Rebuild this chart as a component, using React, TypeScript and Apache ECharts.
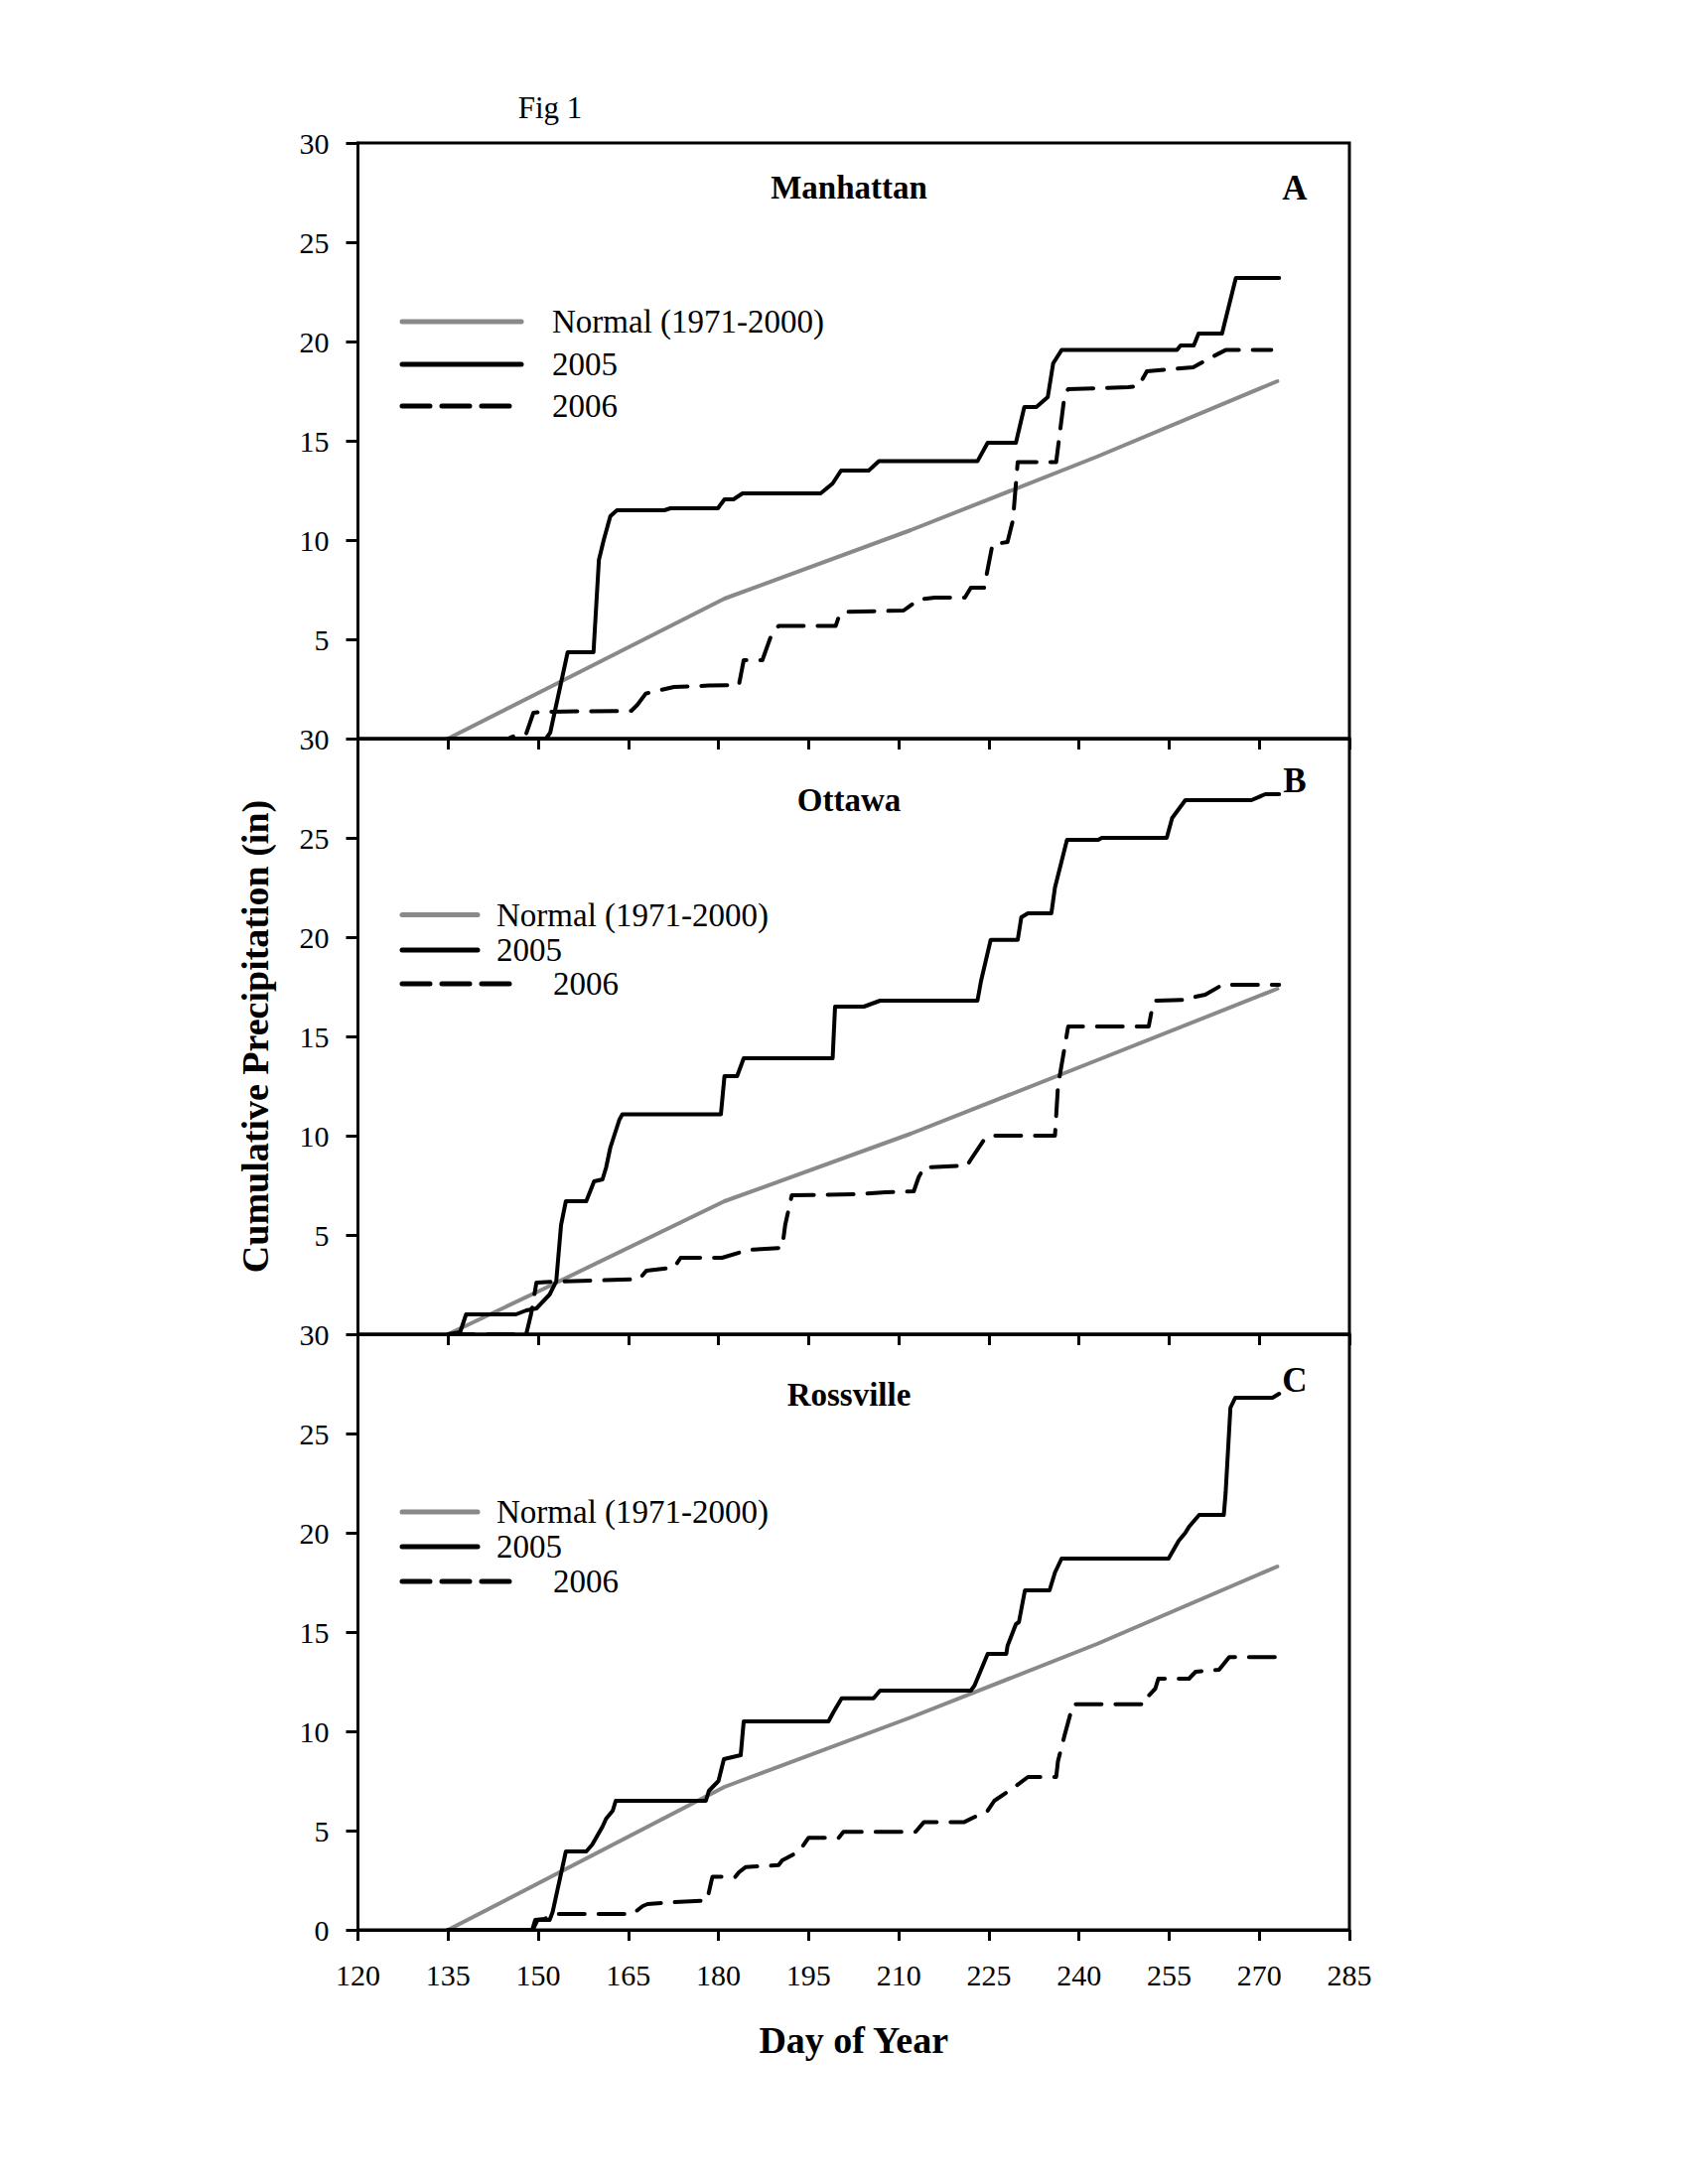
import React, { useEffect, useRef } from "react";
import * as echarts from "echarts";

// ---------- data ----------
const panelNames = ["Manhattan", "Ottawa", "Rossville"];
const panelLetters = ["A", "B", "C"];
const seriesNames = ["Normal (1971-2000)", "2005", "2006"];

const X_MIN = 120;
const X_MAX = 285;
const X_STEP = 15;
const Y_MIN = 0;
const Y_MAX = 30;
const Y_STEP = 5;

// Manhattan (A)
const manhattanNormal = [[135, 0], [151, 2.45], [181, 7.05], [212, 10.5], [243, 14.2], [273, 18.0]];
const manhattan2005 = [
  [135, 0], [151.3, 0], [152, 0.3], [154.9, 4.35], [159.2, 4.35], [160.1, 9.0], [160.9, 10.0], [162, 11.2],
  [163.1, 11.5], [171, 11.5], [172, 11.6], [179.9, 11.6], [181, 12.05], [182.5, 12.05], [184, 12.35],
  [197, 12.35], [199, 12.85], [200.4, 13.5], [205, 13.5], [206.7, 13.97], [223.1, 13.97], [224.8, 14.9],
  [229.5, 14.9], [230.9, 16.7], [232.9, 16.7], [234.8, 17.2], [235.7, 18.9], [237.1, 19.57], [256.3, 19.57],
  [256.9, 19.8], [259.1, 19.8], [259.9, 20.4], [263.8, 20.4], [266.1, 23.2], [273.3, 23.2],
];
const manhattan2006 = [
  [135, 0], [145, 0], [146.5, 0.2], [148, 0.25], [149.2, 1.3], [150.5, 1.35], [165.5, 1.4], [166.5, 1.7],
  [167.9, 2.27], [172.6, 2.6], [178.4, 2.67], [183.4, 2.7], [184.2, 3.95], [187.3, 3.95], [188.9, 5.3],
  [190, 5.67], [199.5, 5.67], [200.1, 6.2], [200.8, 6.38], [210.8, 6.45], [213.3, 7.0], [216, 7.1],
  [221, 7.1], [222, 7.6], [224.2, 7.6], [225.6, 9.78], [228.1, 9.9], [229, 11], [229.8, 13.93],
  [236.2, 13.93], [237.6, 17.3], [238.2, 17.6], [248.2, 17.7], [249.9, 17.75], [251.3, 18.5], [259, 18.7],
  [262, 19.2], [264.4, 19.57], [272, 19.57],
];

// Ottawa (B)
const ottawaNormal = [[135, 0], [151, 2.3], [181, 6.7], [212, 10.1], [243, 13.8], [273, 17.4]];
const ottawa2005 = [
  [135, 0], [137, 0.1], [138, 1.0], [146.3, 1.0], [148, 1.2], [149.7, 1.3], [151.9, 2.0], [153, 2.67],
  [153.8, 5.5], [154.6, 6.7], [158, 6.7], [159.3, 7.7], [160.7, 7.8], [161.3, 8.4], [162, 9.4],
  [163.5, 10.8], [164, 11.07], [180.4, 11.07], [181, 13.0], [183.1, 13.0], [184.2, 13.9], [199, 13.9],
  [199.4, 16.5], [204.2, 16.5], [206.9, 16.8], [223.1, 16.8], [223.7, 17.8], [225.3, 19.86], [229.8, 19.86],
  [230.4, 21.0], [231.5, 21.2], [235.4, 21.2], [236, 22.5], [238, 24.9], [243.2, 24.9], [243.8, 25.0],
  [254.6, 25.0], [255.5, 26.0], [257.7, 26.9], [268.7, 26.9], [271, 27.2], [273.3, 27.2],
];
const ottawa2006 = [
  [135, 0], [148, 0], [148.8, 1.0], [149.7, 2.6], [153, 2.65], [166.8, 2.77], [168, 3.2], [172.6, 3.36],
  [173.7, 3.85], [180.6, 3.85], [185, 4.25], [190.6, 4.35], [191.1, 5.5], [192.2, 7.0], [202.7, 7.05],
  [207.8, 7.15], [212.5, 7.2], [213.3, 7.9], [214.2, 8.4], [221.4, 8.5], [222, 8.8], [224.2, 9.8],
  [225.3, 10.0], [236, 10.0], [236.5, 12.5], [238.2, 15.5], [251.6, 15.5], [252.1, 16.3], [252.7, 16.8],
  [258.3, 16.85], [259.4, 17.0], [261, 17.1], [263.3, 17.5], [263.8, 17.6], [273.3, 17.6],
];

// Rossville (C)
const rossvilleNormal = [[135, 0], [151, 2.5], [181, 7.2], [212, 10.7], [243, 14.4], [273, 18.3]];
const rossville2005 = [
  [135, 0], [149.1, 0], [149.9, 0.5], [151.9, 0.5], [152.4, 0.9], [154.6, 3.95], [158, 3.95], [159, 4.3],
  [160.7, 5.2], [161.3, 5.6], [162.4, 6.0], [162.9, 6.5], [177.9, 6.5], [178.4, 7.0], [180, 7.5],
  [180.9, 8.6], [183.7, 8.8], [184.2, 10.5], [198.3, 10.5], [199.2, 11.0], [200.5, 11.66], [205.8, 11.66],
  [206.9, 12.05], [222, 12.05], [222.6, 12.3], [224.8, 13.9], [227.9, 13.9], [228.1, 14.3], [229.5, 15.4],
  [230, 15.5], [231, 17.1], [235.1, 17.1], [236, 18.0], [237.1, 18.7], [254.9, 18.7], [256.6, 19.6],
  [257.7, 20.0], [258.3, 20.3], [260, 20.9], [264.1, 20.9], [264.4, 22.0], [265.2, 26.3], [266, 26.8],
  [272.2, 26.8], [273.3, 27.0],
];
const rossville2006 = [
  [135, 0], [149, 0], [149.5, 0.5], [151, 0.55], [153, 0.8], [165.7, 0.8], [167.4, 1.2], [168.2, 1.3],
  [171.8, 1.38], [178.1, 1.48], [178.7, 2.3], [179, 2.67], [182.8, 2.67], [183.4, 2.9], [184.5, 3.16],
  [190, 3.26], [190.6, 3.5], [193.4, 3.95], [195, 4.64], [200, 4.64], [200.8, 4.94], [212.8, 4.94],
  [214.2, 5.43], [220.9, 5.43], [224.8, 6.0], [225.9, 6.5], [229.3, 7.2], [231.5, 7.7], [236.2, 7.7],
  [236.5, 8.5], [237.6, 9.8], [239, 11.36], [251, 11.36], [251.6, 11.8], [252.7, 12.15], [253.2, 12.65],
  [258.3, 12.65], [259.4, 13.0], [263.3, 13.1], [265, 13.74], [273.3, 13.74],
];

const panelSeries = [
  [manhattanNormal, manhattan2005, manhattan2006],
  [ottawaNormal, ottawa2005, ottawa2006],
  [rossvilleNormal, rossville2005, rossville2006],
];

// ---------- layout / style ----------
const FONT = "'Liberation Serif', 'Times New Roman', serif";
const GRID_LEFT = 360.5;
const GRID_RIGHT_X = 1359;
const GRID_TOPS = [144, 744, 1344];
const GRID_H = 600;
const GRAY = "#898989";
const LINE_W = 4;
const DASH = [26, 14];
const LEGEND_DASH = [28, 12];

const lineStyles = [
  { color: GRAY, width: LINE_W, type: "solid", cap: "round", join: "round" },
  { color: "#000", width: LINE_W, type: "solid", cap: "round", join: "round" },
  { color: "#000", width: LINE_W, type: DASH, cap: "round", join: "round" },
];

// legend layout for each panel (sample start/end, text x, row y)
const legendLayouts = [
  { x0: 405, ends: [525, 525, 513], textX: [556, 556, 556], rows: [324, 367, 409] },
  { x0: 405, ends: [481, 481, 513], textX: [500, 500, 557], rows: [921.5, 957, 991] },
  { x0: 405, ends: [481, 481, 513], textX: [500, 500, 557], rows: [1523, 1558, 1593] },
];

function buildOption() {
  const grids = GRID_TOPS.map((top) => ({
    left: GRID_LEFT,
    top,
    width: GRID_RIGHT_X - GRID_LEFT,
    height: GRID_H,
    show: true,
    borderColor: "#000",
    borderWidth: 3,
    backgroundColor: "transparent",
  }));

  const xAxes = GRID_TOPS.map((_, i) => ({
    type: "value",
    gridIndex: i,
    min: X_MIN,
    max: X_MAX,
    interval: X_STEP,
    axisLine: { show: true, lineStyle: { color: "#000", width: 3 } },
    axisTick: { show: true, inside: false, length: 11, lineStyle: { color: "#000", width: 3 } },
    axisLabel: {
      show: i === 2,
      color: "#000",
      fontFamily: FONT,
      fontSize: 30,
      margin: 30,
    },
    splitLine: { show: false },
    name: i === 2 ? "Day of Year" : "",
    nameLocation: "middle",
    nameGap: 92,
    nameTextStyle: { color: "#000", fontFamily: FONT, fontSize: 38, fontWeight: "bold" },
  }));

  const yAxes = GRID_TOPS.map((_, i) => ({
    type: "value",
    gridIndex: i,
    min: Y_MIN,
    max: Y_MAX,
    interval: Y_STEP,
    axisLine: { show: true, lineStyle: { color: "#000", width: 3 } },
    axisTick: { show: true, inside: false, length: 12, lineStyle: { color: "#000", width: 3 } },
    axisLabel: {
      show: true,
      color: "#000",
      fontFamily: FONT,
      fontSize: 30,
      margin: 29,
      showMinLabel: i === 2,
      showMaxLabel: true,
    },
    splitLine: { show: false },
    name: i === 1 ? "Cumulative Precipitation (in)" : "",
    nameLocation: "middle",
    nameGap: 85,
    nameTextStyle: { color: "#000", fontFamily: FONT, fontSize: 38, fontWeight: "bold" },
  }));

  const series: any[] = [];
  panelSeries.forEach((group, p) => {
    group.forEach((data, s) => {
      series.push({
        type: "line",
        name: `${panelNames[p]} ${seriesNames[s]}`,
        xAxisIndex: p,
        yAxisIndex: p,
        data,
        showSymbol: false,
        symbol: "none",
        smooth: false,
        clip: false,
        lineStyle: lineStyles[s],
        z: s === 0 ? 2 : 3,
      });
    });
  });

  const graphics: any[] = [];
  graphics.push({
    type: "text",
    x: 554,
    y: 108,
    style: {
      text: "Fig 1",
      fill: "#000",
      font: `31px ${FONT}`,
      textAlign: "center",
      align: "center",
      textVerticalAlign: "middle",
      verticalAlign: "middle",
    },
  });
  const titleY = [189, 806, 1405];
  const letterY = [189, 786, 1390];
  panelNames.forEach((name, p) => {
    graphics.push({
      type: "text",
      x: 855,
      y: titleY[p],
      style: {
        text: name,
        fill: "#000",
        font: `bold 33px ${FONT}`,
        textAlign: "center",
        align: "center",
        textVerticalAlign: "middle",
        verticalAlign: "middle",
      },
    });
    graphics.push({
      type: "text",
      x: 1304,
      y: letterY[p],
      style: {
        text: panelLetters[p],
        fill: "#000",
        font: `bold 35px ${FONT}`,
        textAlign: "center",
        align: "center",
        textVerticalAlign: "middle",
        verticalAlign: "middle",
      },
    });
    const lay = legendLayouts[p];
    seriesNames.forEach((sn, s) => {
      const ls = lineStyles[s];
      graphics.push({
        type: "line",
        shape: { x1: lay.x0, y1: lay.rows[s], x2: lay.ends[s], y2: lay.rows[s] },
        style: {
          stroke: ls.color,
          lineWidth: 5,
          lineCap: "round",
          lineDash: s === 2 ? LEGEND_DASH : null,
        },
      });
      graphics.push({
        type: "text",
        x: lay.textX[s],
        y: lay.rows[s],
        style: {
          text: sn,
          fill: "#000",
          font: `33px ${FONT}`,
          textAlign: "left",
          align: "left",
          textVerticalAlign: "middle",
          verticalAlign: "middle",
        },
      });
    });
  });

  return {
    animation: false,
    backgroundColor: "#fff",
    textStyle: { fontFamily: FONT },
    grid: grids,
    xAxis: xAxes,
    yAxis: yAxes,
    series,
    graphic: graphics,
  };
}

export default function App() {
  const ref = useRef<HTMLDivElement | null>(null);
  useEffect(() => {
    if (!ref.current) return;
    const chart = echarts.init(ref.current, null, { renderer: "svg", width: 1700, height: 2200 });
    chart.setOption(buildOption() as any);
    return () => chart.dispose();
  }, []);
  return (
    <div
      ref={ref}
      style={{ position: "absolute", left: 0, top: 0, width: 1700, height: 2200, background: "#fff" }}
    />
  );
}
